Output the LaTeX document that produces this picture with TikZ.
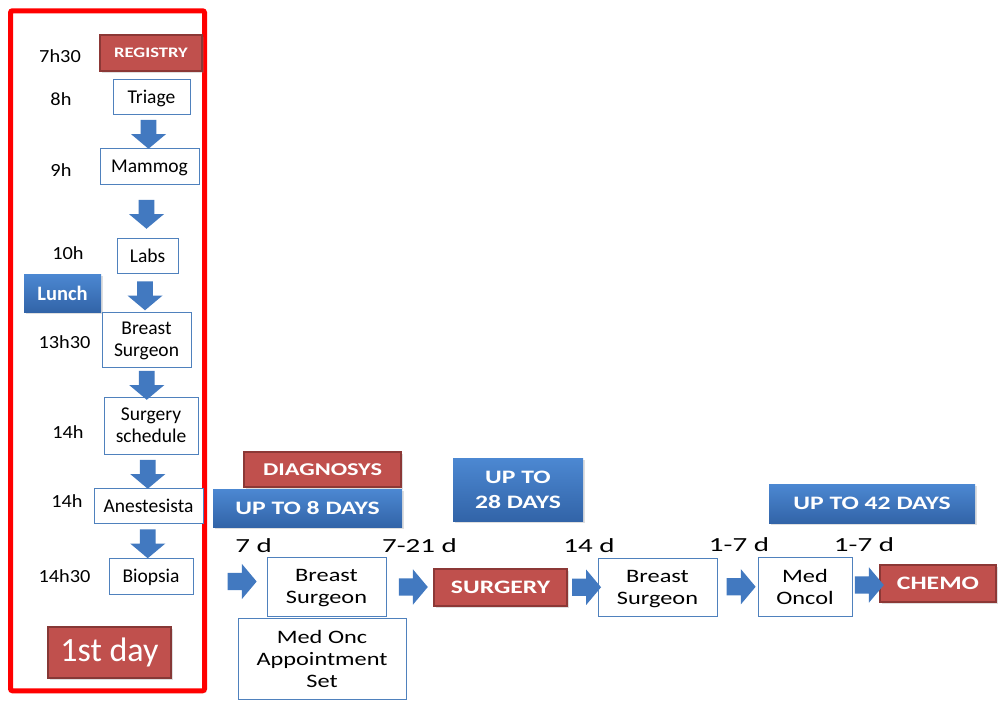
\documentclass[tikz,border=0pt]{standalone}
\usepackage{fontspec}
\setmainfont{Carlito}
\newfontfamily\timefont[FakeStretch=1.1]{Carlito}
\newfontfamily\widefont[FakeStretch=1.28]{Carlito}
\newfontfamily\capsfont[FakeStretch=1.35]{Carlito}
\newfontfamily\dayfont[FakeStretch=1.45]{Carlito}
\usetikzlibrary{positioning,calc,shapes.arrows,shadows}

\definecolor{boxblue}{HTML}{4F81BD}
\definecolor{bluetop}{HTML}{4C88D2}
\definecolor{bluebot}{HTML}{3264A8}
\definecolor{redfill}{HTML}{C0504D}
\definecolor{redline}{HTML}{8C3836}
\definecolor{arrowblue}{HTML}{4279C0}

\begin{document}
\begin{tikzpicture}[x=1pt, y=-1pt,
plainbox/.style={draw=boxblue, fill=white, line width=1pt, inner sep=0pt, text depth=0pt, align=center, font=\fontsize{19.5}{22}\selectfont},
widebox/.style={plainbox, font=\widefont\fontsize{19}{22}\selectfont},
redbox/.style={draw=redline, fill=redfill, line width=2.5pt, inner sep=0pt, text=white, font=\capsfont\bfseries\fontsize{19}{22}\selectfont, drop shadow={opacity=.25}},
bluebox/.style={top color=bluetop, bottom color=bluebot, inner sep=0pt, text=white, align=center, font=\capsfont\bfseries\fontsize{19}{25}\selectfont, drop shadow={opacity=.25}},
arrowbase/.style={single arrow, fill=arrowblue, minimum width=35pt, minimum height=29pt, single arrow head extend=9pt, single arrow tip angle=100, inner xsep=7pt, inner ysep=8.5pt},
dnarrow/.style={arrowbase, shape border rotate=270, xshift=-2pt},
rtarrow/.style={arrowbase},
timelabel/.style={anchor=base, font=\timefont\fontsize{18.5}{22}\selectfont},
daylabel/.style={anchor=base, font=\dayfont\fontsize{20}{24}\selectfont}
]
\useasboundingbox (0,0) rectangle (999,704);

\node[draw=red, fill=white, line width=5pt, rounded corners=2pt, minimum width=194pt, minimum height=680pt, drop shadow={opacity=.2}] (dayframe) at (107.5,350.75) {};

\node[redbox, minimum width=102pt, minimum height=36pt, font=\widefont\bfseries\fontsize{14.5}{18}\selectfont] (registry) at (151,53) {REGISTRY};
\node[plainbox, minimum width=77pt, minimum height=35pt] (triage) at (151.5,96.5) {Triage};
\node[plainbox, minimum width=99pt, minimum height=36pt] (mammog) at (149.5,166) {Mammog};
\node[plainbox, minimum width=61pt, minimum height=35pt] (labs) at (147.5,255.5) {Labs};
\node[bluebox, minimum width=77pt, minimum height=38pt, font=\bfseries\fontsize{20.5}{24}\selectfont] (lunch) at (62.5,293) {Lunch};
\node[plainbox, minimum width=89pt, minimum height=55pt] (surgeon) at (146.5,339.5) {Breast\\Surgeon};
\node[plainbox, minimum width=94pt, minimum height=57pt] (schedule) at (151,425.5) {Surgery\\schedule};
\node[plainbox, minimum width=109pt, minimum height=35pt] (anest) at (148.5,505.5) {Anestesista};
\node[plainbox, minimum width=84pt, minimum height=36pt] (biopsia) at (151,576) {Biopsia};
\node[redbox, draw=redfill!70!black, line width=1.5pt, minimum width=123pt, minimum height=51pt, font=\fontsize{34}{40}\selectfont] (firstday) at (109.5,652.5) {1st day};

\node[timelabel] (t730) at (60,62) {7h30};
\node[timelabel] (t8) at (61,105) {8h};
\node[timelabel] (t9) at (61,176) {9h};
\node[timelabel] (t10) at (68,259) {10h};
\node[timelabel] (t1330) at (64.5,348) {13h30};
\node[timelabel] (t14a) at (68,438) {14h};
\node[timelabel] (t14b) at (67,507) {14h};
\node[timelabel] (t1430) at (64.5,582) {14h30};

\node[dnarrow] (d1) at ($(triage.south)!.5!(mammog.north)$) {};
\node[dnarrow] (d2) at ($(mammog.south)!.5!(labs.north)$) {};
\node[dnarrow] (d3) at ($(labs.south)!.5!(surgeon.north)$) {};
\node[dnarrow] (d4) at ($(surgeon.south)!.5!(schedule.north)$) {};
\node[dnarrow] (d5) at ($(schedule.south)!.5!(anest.north)$) {};
\node[dnarrow] (d6) at ($(anest.south)!.5!(biopsia.north)$) {};

\node[redbox, minimum width=157pt, minimum height=35pt, font=\capsfont\bfseries\fontsize{18}{20}\selectfont] (diag) at (322.5,469.5) {DIAGNOSYS};
\node[bluebox, minimum width=189pt, minimum height=38pt] (up8) at (307.5,508) {UP TO 8 DAYS};
\node[bluebox, minimum width=130pt, minimum height=63pt] (up28) at (518,489.5) {UP TO\\28 DAYS};
\node[bluebox, minimum width=206pt, minimum height=39pt] (up42) at (872,503.5) {UP TO 42 DAYS};

\node[widebox, minimum width=119pt, minimum height=59pt] (bs2) at (326.5,586.5) {Breast\\Surgeon};
\node[widebox, minimum width=168pt, minimum height=81pt] (medonc) at (322,658.5) {Med Onc\\Appointment\\Set};
\node[redbox, minimum width=133pt, minimum height=37pt] (surgery) at (500.5,587.5) {SURGERY};
\node[widebox, minimum width=119pt, minimum height=58pt] (bs3) at (657.5,587) {Breast\\Surgeon};
\node[widebox, minimum width=94pt, minimum height=59pt] (medoncol) at (805,586.5) {Med\\Oncol};
\node[redbox, minimum width=116pt, minimum height=37pt] (chemo) at (938,583.5) {CHEMO};

\node[daylabel] (d7) at (253.5,552) {7 d};
\node[daylabel] (d721) at (419.5,552) {7-21 d};
\node[daylabel] (d14) at (589,552) {14 d};
\node[daylabel] (d17a) at (739,551) {1-7 d};
\node[daylabel] (d17b) at (864,551) {1-7 d};

\node[rtarrow] (r1) at ($(bs2.west)+(-28,-5)$) {};
\node[rtarrow] (r2) at ($(bs2.east)!.5!(surgery.west)$) {};
\node[rtarrow] (r3) at ($(surgery.east)!.5!(bs3.west)$) {};
\node[rtarrow] (r4) at ($(bs3.east)!.5!(medoncol.west)$) {};
\node[rtarrow] (r5) at ($(medoncol.east)!.5!(chemo.west)$) {};
\end{tikzpicture}
\end{document}
